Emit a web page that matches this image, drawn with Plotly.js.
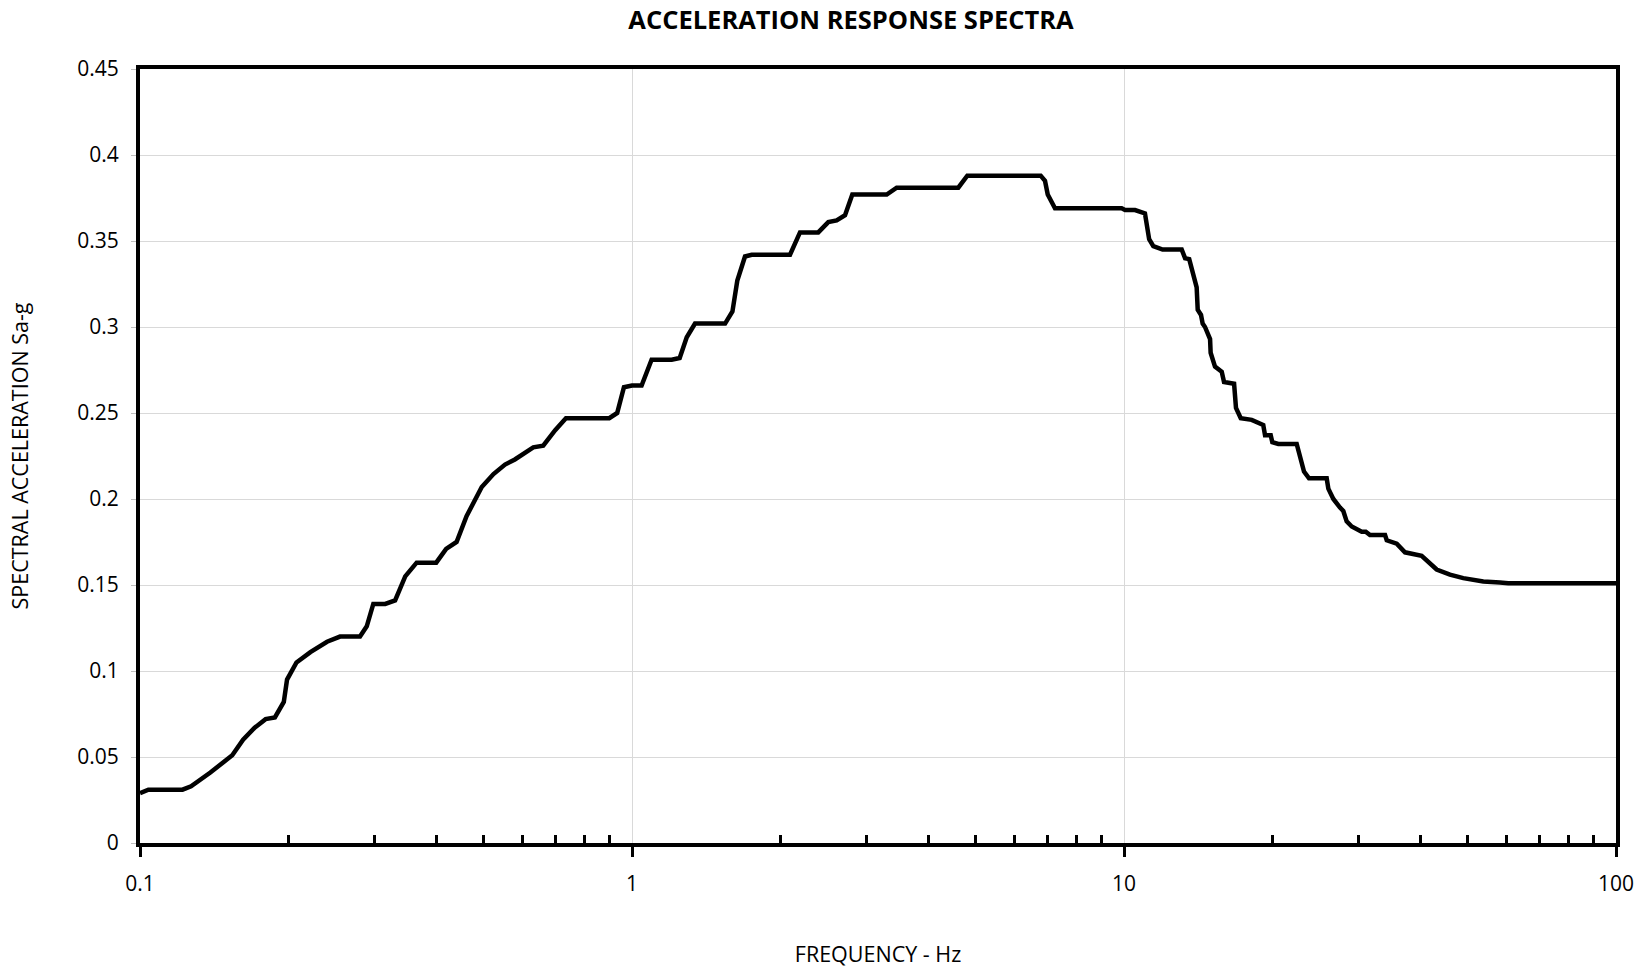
<!DOCTYPE html>
<html>
<head>
<meta charset="utf-8">
<script src="https://cdn.plot.ly/plotly-3.0.1.min.js"></script>
<style>
  html, body { margin: 0; padding: 0; background: #fff; }
  #chart { width: 1651px; height: 974px; }
</style>
</head>
<body>
<div id="chart"></div>
<script>
// Frequency (Hz)
const frequency = [
  0.1, 0.104, 0.122, 0.127, 0.139, 0.154, 0.162, 0.171, 0.180, 0.188,
  0.196, 0.199, 0.208, 0.222, 0.240, 0.255, 0.280, 0.289, 0.298, 0.315,
  0.330, 0.346, 0.365, 0.400, 0.419, 0.440, 0.461, 0.495, 0.523, 0.552,
  0.578, 0.630, 0.660, 0.698, 0.734, 0.899, 0.933, 0.963, 1.0, 1.046,
  1.096, 1.204, 1.250, 1.292, 1.343, 1.546, 1.60, 1.637, 1.697, 1.751,
  2.095, 2.195, 2.391, 2.506, 2.606, 2.71, 2.804, 3.294, 3.451, 4.605,
  4.803, 6.771, 6.909, 6.998, 7.24, 9.89, 10.05, 10.53, 11.03, 11.25,
  11.47, 11.98, 13.10, 13.31, 13.57, 13.83, 14.05, 14.12, 14.34, 14.45,
  14.61, 14.96, 15.0, 15.31, 15.80, 15.97, 16.74, 16.89, 17.27, 18.18,
  19.19, 19.35, 19.87, 20.02, 20.59, 22.44, 23.22, 23.77, 25.82, 26.02,
  26.64, 27.48, 27.91, 28.35, 29.03, 30.42, 31.0, 31.62, 33.93, 34.2,
  35.84, 37.25, 40.27, 43.2, 45.97, 48.93, 53.74, 58.1, 60.4, 100
];
// Spectral acceleration (g)
const spectralAcc = [
  0.029, 0.031, 0.031, 0.033, 0.041, 0.051, 0.060, 0.067, 0.072, 0.073,
  0.082, 0.095, 0.105, 0.111, 0.117, 0.120, 0.120, 0.126, 0.139, 0.139,
  0.141, 0.155, 0.163, 0.163, 0.171, 0.175, 0.190, 0.207, 0.2145, 0.220,
  0.223, 0.230, 0.231, 0.240, 0.247, 0.247, 0.250, 0.265, 0.266, 0.266,
  0.281, 0.281, 0.282, 0.294, 0.302, 0.302, 0.309, 0.327, 0.341, 0.342,
  0.342, 0.355, 0.355, 0.361, 0.362, 0.365, 0.377, 0.377, 0.381, 0.381,
  0.388, 0.388, 0.385, 0.377, 0.369, 0.369, 0.368, 0.368, 0.366, 0.351,
  0.347, 0.345, 0.345, 0.340, 0.3395, 0.331, 0.323, 0.310, 0.307, 0.302,
  0.300, 0.293, 0.285, 0.277, 0.274, 0.268, 0.267, 0.253, 0.247, 0.246,
  0.243, 0.237, 0.237, 0.233, 0.232, 0.232, 0.216, 0.212, 0.212, 0.206,
  0.200, 0.195, 0.193, 0.187, 0.184, 0.181, 0.181, 0.179, 0.179, 0.176,
  0.174, 0.169, 0.167, 0.159, 0.156, 0.154, 0.152, 0.1515, 0.151, 0.151
];
const xTickVals = [0.1, 1, 10, 100];
const xTickText = ['0.1', '1', '10', '100'];
const minorMultipliers = [2, 3, 4, 5, 6, 7, 8, 9];

const minorVals = [];
[0.1, 1, 10].forEach(function (d) {
  minorMultipliers.forEach(function (m) { minorVals.push(+(d * m).toPrecision(3)); });
});

const FONT = 'Open Sans, Calibri, Carlito, sans-serif';

const trace = {
  x: frequency,
  y: spectralAcc,
  type: 'scatter',
  mode: 'lines',
  line: { color: '#000000', width: 4.5 },
  hoverinfo: 'x+y',
  showlegend: false
};

const layout = {
  width: 1651,
  height: 974,
  margin: { l: 140, r: 35, t: 69, b: 131 },
  paper_bgcolor: '#ffffff',
  plot_bgcolor: '#ffffff',
  font: { family: FONT, color: '#000000', size: 21 },
  title: {
    text: '<b>ACCELERATION RESPONSE SPECTRA</b>',
    font: { family: FONT, size: 25.5, color: '#000000' },
    x: 0.4817, xanchor: 'center', xref: 'paper',
    y: 1 - 20 / 974, yanchor: 'middle', yref: 'container'
  },
  xaxis: {
    type: 'log',
    range: [-1, 2],
    tickmode: 'array',
    tickvals: xTickVals,
    ticktext: xTickText,
    ticks: 'outside',
    ticklen: 10,
    tickwidth: 3,
    tickcolor: '#000000',
    ticklabelstandoff: 9,
    tickfont: { family: FONT, size: 21, color: '#000000' },
    showline: true,
    linecolor: '#000000',
    linewidth: 4,
    mirror: true,
    showgrid: true,
    gridcolor: '#d9d9d9',
    gridwidth: 1,
    zeroline: false,
    minor: {
      tickmode: 'array',
      tickvals: minorVals,
      ticks: 'inside',
      ticklen: 8,
      tickwidth: 3,
      tickcolor: '#000000',
      showgrid: false
    },
    title: {
      text: 'FREQUENCY - Hz',
      font: { family: FONT, size: 21.5, color: '#000000' },
      standoff: 52
    }
  },
  yaxis: {
    range: [0, 0.45],
    dtick: 0.05,
    tick0: 0,
    ticks: 'outside',
    ticklen: 5,
    tickwidth: 1,
    tickcolor: '#bfbfbf',
    ticklabelstandoff: 8,
    tickfont: { family: FONT, size: 21, color: '#000000' },
    showline: true,
    linecolor: '#000000',
    linewidth: 4,
    mirror: true,
    showgrid: true,
    gridcolor: '#d9d9d9',
    gridwidth: 1,
    zeroline: false,
    title: {
      text: 'SPECTRAL ACCELERATION Sa-g',
      font: { family: FONT, size: 21.5, color: '#000000' },
      standoff: 44
    }
  }
};

Plotly.newPlot('chart', [trace], layout, { displayModeBar: false, staticPlot: true });
</script>
</body>
</html>
